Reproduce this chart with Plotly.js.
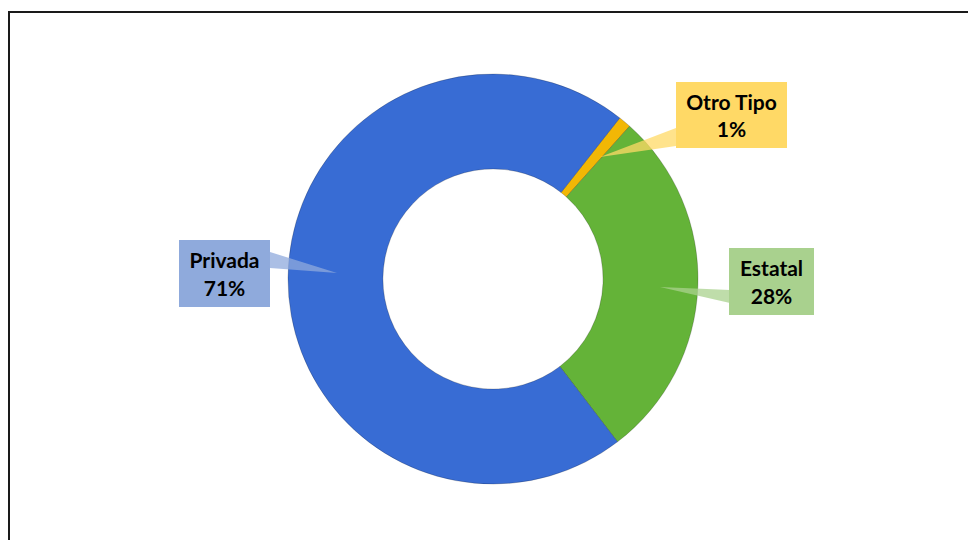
<!DOCTYPE html>
<html>
<head>
<meta charset="utf-8">
<script src="https://cdn.plot.ly/plotly-3.0.1.min.js"></script>
<style>
  html, body { margin: 0; padding: 0; background: #fff; overflow: hidden; }
  #wrap { position: relative; width: 968px; height: 540px; }
  #chart { width: 968px; height: 540px; }
  #frame { position: absolute; left: 8px; top: 11px; width: 1200px; height: 1200px;
           border: 2px solid #1a1a1a; pointer-events: none; }
</style>
</head>
<body>
<div id="wrap">
  <div id="chart"></div>
  <div id="frame"></div>
</div>
<script>
// ---- data ----
const categories = ['Otro Tipo', 'Estatal', 'Privada'];
const values = [1, 28, 71];
const sliceColors = ['#f2b705', '#64b338', '#386cd4'];
const boxColors = ['#ffd966', '#a9d18e', '#8faadc'];

const W = 968, H = 540;
const px = (x) => x / W;
const py = (y) => (H - y) / H;

const total = values.reduce((a, b) => a + b, 0);
const pct = values.map(v => Math.round(v / total * 100) + '%');

// label box layout (pixel centres, sizes) and leader wedges
const boxes = [
  { cx: 731.5, cy: 115,   w: 101, h: 56, base: [[676, 128], [676, 146]], tip: [600, 157] },
  { cx: 771.5, cy: 281.5, w: 75,  h: 57, base: [[730, 290], [730, 303]], tip: [660, 287] },
  { cx: 224.5, cy: 273.5, w: 81,  h: 57, base: [[270, 252], [270, 268]], tip: [337, 273] }
];

const annotations = categories.map((c, i) => ({
  xref: 'paper', yref: 'paper',
  x: px(boxes[i].cx), y: py(boxes[i].cy),
  xanchor: 'center', yanchor: 'middle',
  showarrow: false,
  text: '<b>' + c + '<br>' + pct[i] + '</b>',
  font: { family: 'Lato, "Open Sans", sans-serif', size: 21, color: '#000' },
  bgcolor: boxColors[i],
  borderpad: 5,
  borderwidth: 0,
  width: boxes[i].w,
  height: boxes[i].h,
  align: 'center'
}));

const shapes = categories.map((c, i) => {
  const b = boxes[i];
  const p = [b.base[0], b.tip, b.base[1]];
  const path = 'M ' + p.map(q => px(q[0]) + ',' + py(q[1])).join(' L ') + ' Z';
  return {
    type: 'path', xref: 'paper', yref: 'paper', path: path,
    fillcolor: boxColors[i], opacity: 0.75, line: { width: 0 }, layer: 'above'
  };
});

const cx = 493, cy = 279, R = 205;
const trace = {
  type: 'pie',
  labels: categories,
  values: values,
  hole: 0.537,
  sort: false,
  direction: 'clockwise',
  rotation: 38.2,
  textinfo: 'none',
  hoverinfo: 'label+percent',
  marker: { colors: sliceColors, line: { color: 'rgba(0,0,0,0.25)', width: 0.8 } },
  domain: { x: [px(cx - R), px(cx + R)], y: [py(cy + R), py(cy - R)] },
  showlegend: false
};

const layout = {
  width: W, height: H,
  margin: { l: 0, r: 0, t: 0, b: 0 },
  paper_bgcolor: '#ffffff',
  plot_bgcolor: '#ffffff',
  showlegend: false,
  annotations: annotations,
  shapes: shapes
};

Plotly.newPlot('chart', [trace], layout, { displayModeBar: false, staticPlot: true });
</script>
</body>
</html>
